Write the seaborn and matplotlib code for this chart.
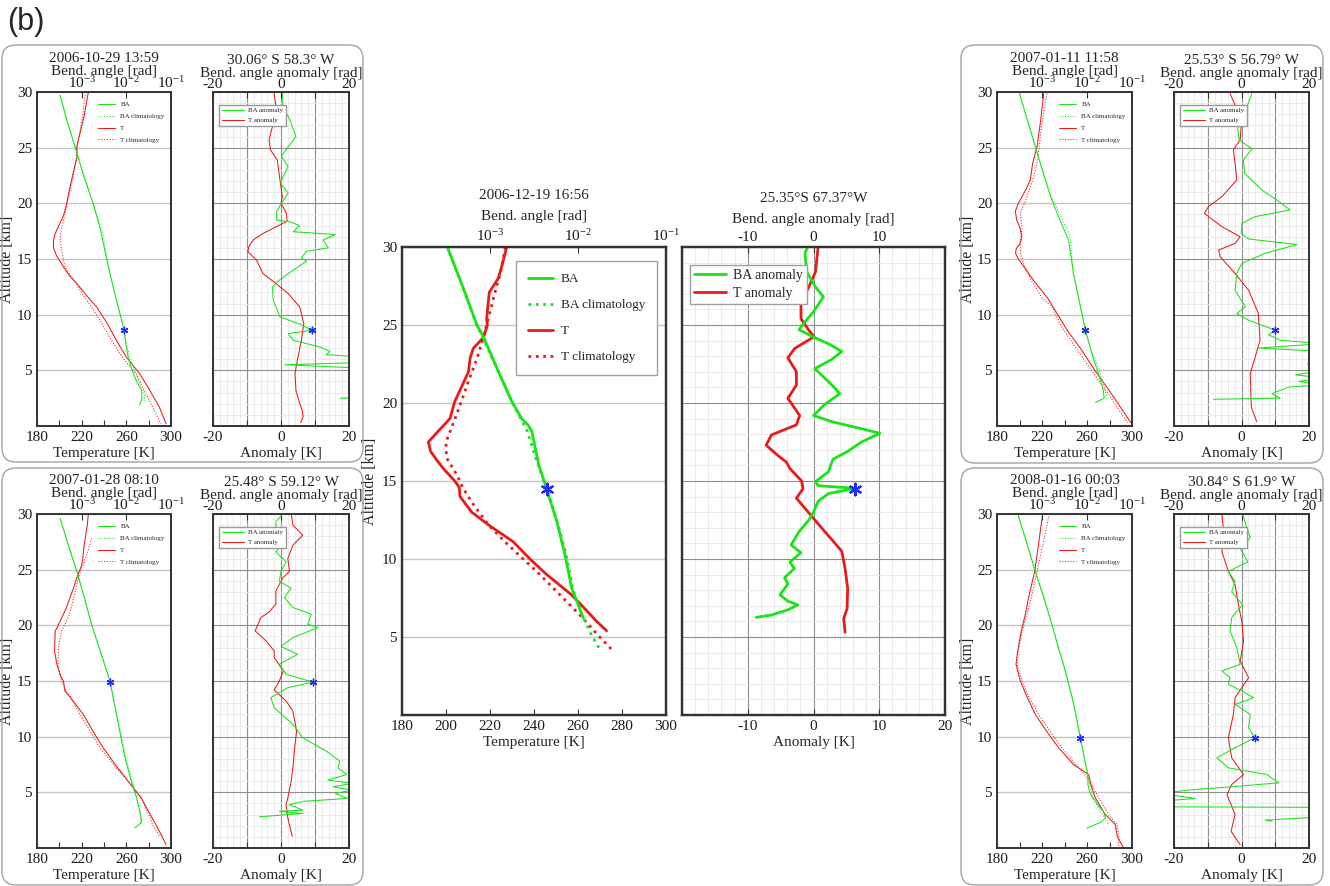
import matplotlib
matplotlib.use("Agg")
import matplotlib.pyplot as plt
from matplotlib.patches import FancyBboxPatch
from matplotlib.lines import Line2D
from matplotlib.ticker import MultipleLocator, NullLocator
import seaborn as sns

# ---------------------------------------------------------------- data
# 2006-12-19 16:56, 25.35°S 67.37°W  (large centre panel)
DEC19_T_ALT = [30.0, 29.1, 28.0, 27.1, 26.2, 25.4, 25.0, 24.2, 23.5, 22.9, 22.0, 21.2, 20.1, 19.0, 18.2, 17.5,
               16.9, 16.4, 15.8, 15.0, 14.6, 14.0, 13.0, 12.2, 11.1, 10.0, 9.0, 7.7, 6.8, 6.0, 5.4]
DEC19_T = [227.6, 226.0, 223.8, 219.7, 219.0, 218.5, 218.8, 217.0, 212.4, 211.0, 210.2, 207.6, 204.0, 201.8, 196.5,
           192.0, 193.0, 195.5, 198.8, 204.0, 206.0, 206.4, 211.7, 219.2, 230.6, 238.2, 245.8, 257.1, 263.2, 268.5,
           273.0]
DEC19_TC_ALT = [30.0, 28.5, 27.1, 25.4, 24.2, 22.9, 21.2, 20.1, 19.0, 17.5, 16.5, 15.4, 14.5, 13.5, 12.2, 11.1,
                10.0, 9.0, 7.7, 6.4, 5.1, 4.1]
DEC19_TC = [227.0, 225.0, 222.3, 219.2, 217.0, 214.2, 209.7, 207.0, 204.1, 200.0, 200.2, 204.9, 207.9, 212.4,
            219.2, 226.8, 235.1, 242.7, 251.8, 260.9, 269.2, 276.0]
DEC19_BA_ALT = [30.0, 27.6, 25.0, 24.2, 22.0, 20.1, 19.0, 18.6, 18.2, 17.0, 16.0, 14.5, 12.4, 10.3, 8.1, 7.3, 6.2]
DEC19_BA = [3.27e-4, 4.8e-4, 7.1e-4, 8.5e-4, 1.25e-3, 1.77e-3, 2.29e-3, 2.7e-3, 2.98e-3, 3.3e-3, 3.6e-3, 4.4e-3,
            5.75e-3, 7.1e-3, 8.5e-3, 9.7e-3, 1.15e-2]
DEC19_BAC_ALT = [30.0, 25.0, 22.0, 20.1, 18.2, 16.5, 14.5, 12.4, 10.3, 8.1, 6.5, 5.1, 4.1]
DEC19_BAC = [3.3e-4, 7.1e-4, 1.25e-3, 1.77e-3, 2.65e-3, 3.3e-3, 4.4e-3, 5.8e-3, 7.3e-3, 8.7e-3, 1.1e-2, 1.43e-2,
             1.82e-2]
DEC19_TA_ALT = [30.0, 28.4, 27.35, 26.5, 25.4, 24.6, 24.25, 23.5, 22.9, 22.0, 21.15, 20.3, 19.2, 18.6, 17.95, 17.3,
                16.7, 16.2, 15.8, 15.0, 14.5, 13.9, 13.5, 12.6, 11.5, 10.5, 9.4, 8.1, 6.8, 6.2, 5.3]
DEC19_TA = [0.7, 0.3, -0.8, -1.9, -1.9, -0.6, 0.1, -2.85, -3.9, -2.6, -2.6, -3.9, -2.1, -2.6, -6.4, -7.2, -5.6,
            -4.1, -3.6, -1.8, -1.6, -2.6, -1.8, 0.0, 2.25, 4.3, 4.8, 5.2, 5.1, 4.6, 4.8]
DEC19_BAA_ALT = [30.0, 29.6, 28.4, 27.5, 26.8, 25.85, 25.2, 24.7, 24.25, 23.75, 23.3, 22.8, 22.2, 21.6, 21.15, 20.6,
                 19.9, 19.2, 18.8, 18.4, 18.06, 17.5, 16.9, 16.4, 16.0, 15.6, 14.96, 14.7, 14.53, 14.2, 13.7, 13.0,
                 12.5, 11.75, 10.9, 10.4, 9.8, 9.4, 8.8, 8.4, 7.7, 7.3, 7.06, 6.74, 6.41, 6.26]
DEC19_BAA = [-0.9, -1.3, -1.0, 0.2, 1.5, 0.0, -1.3, -2.2, -0.1, 2.5, 4.3, 2.8, 0.2, 1.7, 2.8, 4.0, 1.7, 0.0, 2.8,
             6.8, 10.1, 7.3, 5.2, 3.0, 2.6, 2.3, 0.3, 0.7, 6.3, 2.3, 0.7, 0.0, -0.7, -2.2, -3.4, -1.9, -3.6, -2.9,
             -4.4, -3.9, -5.1, -3.9, -2.4, -3.9, -6.4, -8.7]
DEC19_STAR = [14.5, 4.4e-3, 6.3]          # altitude, bending angle, BA anomaly

# 2006-10-29 13:59, 30.06° S 58.3° W
OCT29_T_ALT = [30.0, 28.0, 26.5, 25.1, 24.2, 23.0, 22.1, 21.0, 20.0, 19.0, 18.5, 17.8, 17.2, 16.7, 16.0, 15.3, 14.3,
               13.5, 12.8, 12.0, 10.7, 9.2, 7.7, 6.2, 4.7, 3.2, 1.7, 0.2]
OCT29_T = [226.0, 222.5, 219.0, 215.6, 216.0, 213.0, 211.0, 208.5, 206.7, 204.0, 202.0, 198.5, 196.0, 194.8, 194.8,
           197.5, 203.7, 209.0, 215.6, 222.0, 233.3, 243.0, 251.0, 260.0, 271.9, 281.0, 289.6, 295.6]
OCT29_TC_ALT = [30.0, 28.0, 26.5, 25.1, 24.0, 23.0, 22.0, 21.0, 20.0, 19.0, 18.0, 17.2, 16.7, 15.8, 14.3, 12.8,
                11.8, 10.7, 9.2, 7.7, 6.2, 4.7, 3.2, 1.7, 0.2]
OCT29_TC = [223.5, 221.0, 218.5, 216.0, 215.0, 213.5, 211.5, 209.0, 207.0, 205.0, 202.5, 201.0, 200.7, 202.0, 205.0,
            215.0, 221.0, 228.9, 238.0, 246.7, 256.0, 268.9, 276.0, 283.7, 291.0]
OCT29_BA_ALT = [29.7, 27.5, 25.1, 22.5, 20.0, 18.0, 17.3, 15.5, 13.7, 11.5, 10.0, 8.6, 7.3, 6.2, 5.0, 4.0, 3.2, 2.5,
                1.9]
OCT29_BA = [3.3e-4, 4.6e-4, 7.1e-4, 1.1e-3, 1.8e-3, 2.5e-3, 2.75e-3, 3.4e-3, 4.3e-3, 5.8e-3, 7.3e-3, 8.9e-3,
            9.8e-3, 1.1e-2, 1.35e-2, 1.7e-2, 2.2e-2, 2.25e-2, 2.0e-2]
OCT29_BAC_ALT = [29.7, 25.1, 20.0, 18.0, 17.3, 16.5, 15.5, 13.7, 10.0, 8.6, 7.0, 5.0, 3.5, 2.8, 2.2]
OCT29_BAC = [3.3e-4, 7.0e-4, 1.8e-3, 2.6e-3, 3.0e-3, 3.2e-3, 3.5e-3, 4.3e-3, 7.3e-3, 8.8e-3, 1.05e-2, 1.5e-2,
             2.2e-2, 2.6e-2, 2.5e-2]
OCT29_TA_ALT = [30.0, 28.8, 27.8, 26.6, 25.7, 24.8, 23.9, 22.1, 20.6, 20.0, 19.1, 18.4, 17.8, 17.3, 16.7, 16.1,
                15.65, 14.9, 13.7, 12.8, 11.9, 10.7, 9.2, 7.7, 6.2, 4.7, 3.2, 2.0, 1.4, 0.8, 0.3]
OCT29_TA = [-2.1, -1.5, -1.3, -2.8, -3.5, -3.1, -1.1, -0.3, 0.4, 0.0, 1.6, 1.8, -2.0, -5.3, -8.2, -9.5, -9.7, -7.2,
            -5.3, -1.5, 2.1, 5.5, 6.7, 6.0, 5.0, 4.1, 4.4, 5.5, 6.3, 6.5, 5.8]
OCT29_BAA_ALT = [30.0, 28.7, 27.5, 26.0, 24.8, 24.2, 23.3, 22.4, 21.8, 20.9, 20.0, 19.25, 18.5, 18.35, 18.0, 17.45,
                 17.2, 16.7, 16.0, 15.7, 15.1, 14.8, 14.0, 13.1, 12.5, 11.3, 9.8, 9.1, 8.6, 8.3, 7.7, 7.1, 6.7, 6.4,
                 6.2, 5.7, 5.5, 5.2, 4.9, 4.0, 2.6, 2.55, 2.5, 2.45]
OCT29_BAA = [0.4, 0.6, 2.6, 4.4, 1.4, 0.1, 2.1, 0.6, -0.1, 2.1, 0.1, -1.3, -1.3, 2.6, 5.5, 3.6, 15.9, 12.4, 13.9,
             7.5, 6.0, 7.5, 3.6, -0.5, -2.5, -2.3, -0.3, 6.0, 9.0, 2.1, 3.6, 11.4, 14.4, 13.4, 24.0, 24.0, 1.1, 24.0,
             24.0, 30.0, 30.0, 30.0, 17.5, 30.0]
OCT29_STAR = [8.6, 8.9e-3, 9.0]

# 2007-01-28 08:10, 25.48° S 59.12° W
JAN28_T_ALT = [30.0, 29.0, 28.0, 27.0, 26.0, 25.4, 24.25, 23.3, 22.5, 21.5, 20.7, 20.0, 19.5, 18.5, 17.7, 16.5, 15.5,
               15.0, 14.1, 13.5, 12.0, 10.5, 9.0, 7.5, 6.0, 4.5, 3.0, 1.5, 0.3]
JAN28_T = [226.0, 225.0, 223.5, 222.0, 221.0, 220.0, 215.6, 212.5, 209.6, 206.0, 202.2, 199.0, 196.3, 196.0, 195.7,
           197.8, 201.0, 203.7, 205.0, 210.0, 221.5, 230.0, 239.3, 250.0, 261.5, 273.3, 281.5, 289.6, 295.6]
JAN28_TC_ALT = [27.8, 26.5, 25.4, 24.25, 23.3, 22.5, 21.5, 20.7, 19.5, 18.5, 17.7, 16.5, 15.5, 15.0, 14.1, 13.5, 12.0,
                10.5, 9.0, 7.5, 6.0, 4.5, 3.0, 2.0, 1.05]
JAN28_TC = [229.0, 225.0, 221.0, 217.0, 215.0, 213.0, 210.5, 208.0, 202.0, 200.0, 199.0, 199.0, 200.5, 202.0, 206.0,
            210.5, 218.5, 227.5, 236.3, 248.5, 261.5, 273.3, 280.0, 284.0, 290.0]
JAN28_BA_ALT = [29.6, 27.0, 24.85, 22.5, 20.1, 17.5, 15.0, 12.8, 10.5, 8.0, 6.0, 4.5, 3.0, 2.3, 1.8]
JAN28_BA = [3.3e-4, 5.2e-4, 7.8e-4, 1.15e-3, 1.66e-3, 2.7e-3, 4.3e-3, 5.5e-3, 7.1e-3, 9.5e-3, 1.29e-2, 1.7e-2,
            2.1e-2, 2.2e-2, 1.55e-2]
JAN28_BAC_ALT = [29.6, 24.85, 20.1, 15.0, 10.5, 8.0, 6.0, 5.0, 4.0, 3.0, 2.2]
JAN28_BAC = [3.3e-4, 7.8e-4, 1.66e-3, 4.3e-3, 7.3e-3, 1.0e-2, 1.35e-2, 1.6e-2, 1.8e-2, 2.0e-2, 2.1e-2]
JAN28_TA_ALT = [30.0, 29.0, 28.1, 27.2, 26.0, 24.85, 24.25, 23.1, 21.9, 21.2, 20.7, 19.5, 18.6, 17.7, 17.1, 15.9,
                15.0, 14.2, 13.2, 12.3, 10.5, 9.0, 7.5, 6.0, 4.5, 3.9, 2.7, 1.05]
JAN28_TA = [3.0, 3.5, 6.4, 3.5, 2.0, 2.5, 0.5, -1.5, -1.5, -3.5, -5.9, -7.6, -4.4, -2.0, -2.0, 0.7, -0.5, -2.0, 1.5,
            3.5, 4.6, 4.0, 3.6, 3.0, 2.0, 1.5, 2.0, 3.3]
JAN28_BAA_ALT = [30.0, 29.3, 28.1, 27.5, 26.6, 25.7, 24.85, 23.95, 23.35, 22.5, 21.6, 21.0, 20.1, 19.8, 18.9, 18.1,
                 17.4, 16.5, 15.6, 14.9, 14.4, 13.5, 12.6, 11.1, 9.9, 8.7, 7.8, 7.2, 6.6, 6.1, 5.8, 5.5, 5.2, 4.9,
                 4.45, 4.2, 3.9, 3.4, 3.3, 3.1, 2.8]
JAN28_BAA = [0.5, -1.5, -1.5, 1.0, -1.5, 1.5, 0.0, -0.5, 3.0, 1.0, 3.5, 8.9, 7.9, 10.9, 3.5, 0.0, 4.9, -0.5, 1.5,
             9.4, 2.0, -3.0, -2.0, 3.5, 6.4, 13.3, 17.3, 16.8, 19.3, 13.8, 21.0, 15.3, 21.0, 16.0, 19.5, 6.9, 2.5,
             6.4, -0.5, 6.4, -6.4]
JAN28_STAR = [14.9, 4.3e-3, 9.4]

# 2007-01-11 11:58, 25.53° S 56.79° W
JAN11_T_ALT = [29.85, 28.5, 27.2, 25.1, 23.6, 22.1, 21.3, 20.6, 20.0, 19.3, 18.5, 17.9, 17.0, 16.4, 15.9, 15.5, 15.0,
               14.0, 13.0, 11.5, 10.0, 8.5, 7.0, 5.0, 3.0, 1.5, 0.3]
JAN11_T = [221.5, 220.0, 218.5, 215.6, 211.7, 209.6, 206.0, 202.2, 199.0, 196.3, 197.5, 200.1, 202.2, 200.5, 197.0,
           196.5, 199.0, 206.0, 213.0, 225.0, 234.0, 243.0, 254.0, 267.0, 281.0, 291.0, 299.0]
JAN11_TC_ALT = [29.85, 27.2, 25.1, 23.6, 22.1, 20.6, 19.1, 17.9, 16.4, 15.5, 14.5, 13.0, 11.5, 10.7, 9.0, 7.0, 5.0,
                3.0, 1.5, 0.3]
JAN11_TC = [224.4, 220.0, 217.5, 215.6, 211.7, 206.7, 200.7, 202.2, 200.5, 201.0, 204.0, 211.0, 220.0, 229.0, 237.0,
            250.0, 264.0, 278.0, 288.0, 296.0]
JAN11_BA_ALT = [29.85, 27.5, 25.1, 22.8, 20.6, 18.5, 16.7, 13.7, 11.0, 8.6, 7.1, 6.0, 4.7, 3.2, 2.5, 2.1]
JAN11_BA = [3.16e-4, 4.7e-4, 7.1e-4, 1.05e-3, 1.55e-3, 2.5e-3, 3.9e-3, 5.0e-3, 6.9e-3, 9.2e-3, 1.17e-2, 1.4e-2,
            1.8e-2, 2.3e-2, 2.4e-2, 1.55e-2]
JAN11_BAC_ALT = [29.85, 25.1, 20.6, 18.5, 17.0, 13.7, 8.6, 7.0, 5.0, 3.0, 2.4]
JAN11_BAC = [3.2e-4, 7.1e-4, 1.6e-3, 2.9e-3, 4.2e-3, 5.0e-3, 9.2e-3, 1.2e-2, 1.9e-2, 2.6e-2, 2.7e-2]
JAN11_TA_ALT = [29.85, 27.8, 26.9, 25.7, 24.8, 23.6, 22.1, 20.6, 19.7, 19.1, 17.9, 17.0, 16.4, 15.8, 15.2, 13.7, 12.2,
                10.1, 7.7, 4.7, 1.7, 0.4]
JAN11_TA = [-3.4, -0.4, -0.1, -0.4, -2.4, -1.9, -1.4, -5.8, -9.8, -11.0, -5.8, -0.4, -1.9, -6.8, -6.3, -1.9, 2.1,
            5.0, 5.5, 2.6, 2.9, 4.5]
JAN11_BAA_ALT = [29.85, 28.7, 27.8, 26.6, 25.7, 24.9, 23.9, 22.7, 21.2, 20.3, 19.4, 18.8, 18.2, 17.3, 16.8, 16.3,
                 15.5, 14.6, 13.7, 12.2, 10.7, 10.1, 9.5, 8.6, 8.2, 7.7, 7.4, 7.0, 6.7, 5.9, 5.6, 5.0, 4.6, 4.3, 4.0,
                 3.7, 3.5, 2.9, 2.5, 2.4]
JAN11_BAA = [3.1, 1.6, -0.4, -1.1, -0.7, 3.1, 0.6, 0.9, 6.0, 10.5, 14.4, 4.0, 0.1, -0.1, 2.1, 16.4, 7.0, 0.1, -1.4,
             -1.9, 1.1, -1.4, 2.1, 10.0, 8.0, 11.5, 24.0, 5.0, 24.0, 24.0, 19.5, 24.0, 16.0, 24.0, 17.0, 24.0, 14.0,
             9.0, 11.5, -8.3]
JAN11_STAR = [8.6, 9.2e-3, 10.0]

# 2008-01-16 00:03, 30.84° S 61.9° W
JAN16_T_ALT = [30.0, 26.9, 24.85, 22.5, 21.0, 19.5, 17.7, 16.5, 15.0, 13.5, 12.0, 10.5, 9.0, 7.5, 6.6, 5.5, 4.5, 3.0,
               2.1, 1.0, 0.0]
JAN16_T = [220.6, 216.4, 213.5, 208.1, 205.2, 201.6, 198.4, 196.9, 200.7, 207.0, 214.0, 224.0, 234.8, 248.0, 261.5,
           264.0, 267.4, 276.3, 285.2, 287.0, 292.6]
JAN16_TC_ALT = [30.0, 26.9, 24.85, 22.5, 21.0, 19.5, 17.7, 16.5, 15.0, 13.5, 12.0, 10.5, 9.0, 7.5, 6.6, 5.5, 4.5, 3.0,
                2.1, 1.0, 0.0]
JAN16_TC = [226.5, 220.0, 215.6, 210.5, 206.7, 202.2, 199.0, 198.0, 202.2, 208.5, 217.0, 227.0, 237.7, 250.0, 258.0,
            265.0, 270.4, 279.3, 286.7, 288.5, 288.0]
JAN16_BA_ALT = [30.0, 27.5, 24.85, 22.5, 20.1, 18.0, 16.5, 13.5, 11.5, 9.9, 8.0, 6.9, 6.3, 5.7, 5.0, 4.5, 3.8, 3.3,
                2.7, 2.3, 1.8]
JAN16_BA = [2.9e-4, 4.5e-4, 7.1e-4, 1.1e-3, 1.66e-3, 2.3e-3, 3.0e-3, 4.7e-3, 6.0e-3, 7.1e-3, 8.8e-3, 1.0e-2, 1.05e-2,
            1.05e-2, 1.15e-2, 1.35e-2, 1.8e-2, 2.3e-2, 2.6e-2, 2.0e-2, 1.0e-2]
JAN16_BAC_ALT = [30.0, 24.85, 20.1, 16.5, 13.5, 9.9, 6.9, 5.0, 4.0, 3.0, 2.5, 2.0]
JAN16_BAC = [2.9e-4, 7.1e-4, 1.66e-3, 3.0e-3, 4.7e-3, 7.1e-3, 1.0e-2, 1.25e-2, 1.6e-2, 2.2e-2, 2.8e-2, 3.0e-2]
JAN16_TA_ALT = [30.0, 28.4, 26.6, 24.85, 23.65, 21.85, 20.35, 18.55, 16.8, 15.3, 13.5, 12.0, 9.9, 8.1, 6.6, 5.7, 4.8,
                3.0, 1.5, 0.3]
JAN16_TA = [-5.8, -5.3, -5.8, -3.9, -1.9, -0.9, 0.1, 0.6, -0.4, 2.1, -1.9, -2.4, -3.9, -2.9, 0.6, -2.9, -4.3, -1.9,
            -3.1, -0.4]
JAN16_BAA_ALT = [30.0, 27.85, 26.9, 25.7, 24.85, 23.95, 23.0, 21.85, 20.7, 19.5, 18.0, 16.5, 15.9, 15.3, 14.7, 14.1,
                 13.5, 12.9, 12.0, 10.8, 9.9, 9.0, 8.1, 7.2, 6.6, 5.85, 5.5, 5.2, 4.9, 4.45, 4.2, 3.7, 3.65, 2.8, 2.5,
                 2.4]
JAN16_BAA = [0.3, 2.6, -0.4, 1.9, -3.9, -1.9, -2.9, 0.3, -2.9, -3.4, -1.4, -0.4, -5.8, -3.4, -3.9, 0.1, 3.6, -1.9,
             2.6, 2.1, 3.9, -1.9, -7.3, -3.9, 7.5, 11.0, -2.9, -15.8, -24.0, -13.7, -24.0, -24.0, 24.0, 24.0, 7.0,
             9.0]
JAN16_STAR = [9.9, 7.1e-3, 3.9]

TITLES = {
    "DEC19": ("2006-12-19 16:56", "25.35°S 67.37°W"),
    "OCT29": ("2006-10-29 13:59", "30.06° S 58.3° W"),
    "JAN28": ("2007-01-28 08:10", "25.48° S 59.12° W"),
    "JAN11": ("2007-01-11 11:58", "25.53° S 56.79° W"),
    "JAN16": ("2008-01-16 00:03", "30.84° S 61.9° W"),
}

# ---------------------------------------------------------------- style
sns.set_theme(style="white")
plt.rcParams["font.family"] = ["Liberation Serif", "DejaVu Serif"]
plt.rcParams["mathtext.fontset"] = "stix"
plt.rcParams["axes.unicode_minus"] = False

GREEN = "#18e418"
RED = "#ea1a1a"
BLUE = "#1f2bff"
SPINE = "#333333"
W, H = 1330, 886


def rect(x0, y0, x1, y1):
    return [x0 / W, 1 - y1 / H, (x1 - x0) / W, (y1 - y0) / H]


def trace(ax, vals, alts, **kw):
    sns.lineplot(x=vals, y=alts, ax=ax, orient="y", sort=False, estimator=None, legend=False, **kw)


def key_line(color, lw, ls="-"):
    return Line2D([], [], color=color, lw=lw, linestyle=ls)


def style_axis(ax, big):
    for s in ax.spines.values():
        s.set_color(SPINE)
        s.set_linewidth(1.6 if big else 1.2)
    ax.tick_params(which="both", direction="in", length=4, width=0.8, colors=SPINE,
                   labelcolor="#1a1a1a", labelsize=11)


def profile_pair(fig, r_left, r_right, key, big):
    d = {k: globals()[f"{key}_{k}"] for k in
         ["T_ALT", "T", "TC_ALT", "TC", "BA_ALT", "BA", "BAC_ALT", "BAC", "TA_ALT", "TA", "BAA_ALT", "BAA", "STAR"]}
    when, where = TITLES[key]
    lw = 2.0 if big else 0.75
    ms = 70 if big else 22
    pad_lab = 6 if big else 0.5
    pad_title = 8 if big else 1

    # --- temperature / bending angle profile
    ax = fig.add_axes(r_left)
    axb = ax.twiny()
    axb.set_xscale("log")
    ax.set_xlim(180, 300)
    ax.set_ylim(0, 30)
    axb.set_xlim(1e-4, 1e-1)

    trace(ax, d["T"], d["T_ALT"], color=RED, lw=lw)
    trace(ax, d["TC"], d["TC_ALT"], color=RED, lw=lw, linestyle=":")
    trace(axb, d["BA"], d["BA_ALT"], color=GREEN, lw=lw)
    trace(axb, d["BAC"], d["BAC_ALT"], color=GREEN, lw=lw, linestyle=":")
    sns.scatterplot(x=[d["STAR"][1]], y=[d["STAR"][0]], ax=axb, marker=(6, 2, 0), color=BLUE,
                    s=ms, linewidth=1.6 if big else 1.0, legend=False, zorder=5)

    ax.set_xticks(range(180, 301, 20))
    if big:
        ax.set_xticklabels([str(v) for v in range(180, 301, 20)])
    else:
        ax.set_xticklabels(["180", "", "220", "", "260", "", "300"])
    ax.set_yticks([5, 10, 15, 20, 25, 30])
    ax.yaxis.grid(True, color="#c4c4c4", lw=1.0)
    ax.xaxis.grid(False)
    axb.set_xticks([1e-3, 1e-2, 1e-1])
    axb.xaxis.set_minor_locator(NullLocator())
    axb.set_ylim(0, 30)
    for a in (ax, axb):
        style_axis(a, big)
    axb.tick_params(pad=0.5 if not big else 2)
    ax.set_xlabel("Temperature [K]", fontsize=11, labelpad=2)
    ax.set_ylabel("Altitude [km]", fontsize=11.5, labelpad=1 if not big else 3)
    axb.set_xlabel("Bend. angle [rad]", fontsize=11, labelpad=pad_lab)
    axb.set_title(when, fontsize=11, pad=pad_title)

    keys = [key_line(GREEN, lw), key_line(GREEN, lw, ":"), key_line(RED, lw), key_line(RED, lw, ":")]
    names = ["BA", "BA climatology", "T", "T climatology"]
    if big:
        axb.legend(keys, names, loc="upper right", bbox_to_anchor=(0.99, 0.984), fontsize=9.5,
                   labelspacing=1.05, borderpad=0.9, handlelength=1.9, handletextpad=0.6, fancybox=False,
                   framealpha=1, edgecolor="#a0a0a0")
    else:
        axb.legend(keys, names, loc="upper right", bbox_to_anchor=(1.0, 0.99), fontsize=5,
                   labelspacing=0.85, handlelength=2.4, handletextpad=0.8, frameon=False)

    # --- anomaly profile
    axa = fig.add_axes(r_right)
    axt = axa.twiny()
    axa.set_xlim(-20, 20)
    axa.set_ylim(0, 30)
    axt.set_xlim(-20, 20)
    axt.set_ylim(0, 30)

    axa.xaxis.set_minor_locator(MultipleLocator(2))
    axa.yaxis.set_minor_locator(MultipleLocator(1))
    axa.grid(which="minor", color="#e8e8e8", lw=0.6)
    axa.grid(which="major", color="#8e8e8e", lw=0.8)

    trace(axa, d["TA"], d["TA_ALT"], color=RED, lw=lw)
    trace(axt, d["BAA"], d["BAA_ALT"], color=GREEN, lw=lw)
    sns.scatterplot(x=[d["STAR"][2]], y=[d["STAR"][0]], ax=axt, marker=(6, 2, 0), color=BLUE,
                    s=ms, linewidth=1.6 if big else 1.0, legend=False, zorder=5)

    ticks = [-20, -10, 0, 10, 20]
    axa.set_xticks(ticks)
    axt.set_xticks(ticks)
    if big:
        axa.set_xticklabels(["", "-10", "0", "10", "20"])
        axt.set_xticklabels(["", "-10", "0", "10", ""])
    else:
        axa.set_xticklabels(["-20", "", "0", "", "20"])
        axt.set_xticklabels(["-20", "", "0", "", "20"])
    axa.set_yticks([5, 10, 15, 20, 25, 30])
    axa.tick_params(labelleft=False)
    for a in (axa, axt):
        style_axis(a, big)
    axa.tick_params(which="minor", length=0)
    axt.tick_params(which="minor", length=0)
    axt.tick_params(pad=1 if not big else 2)
    axa.set_xlabel("Anomaly [K]", fontsize=11, labelpad=2)
    axa.set_ylabel("")
    axt.set_xlabel("Bend. angle anomaly [rad]", fontsize=11, labelpad=pad_lab if big else 0.5)
    axt.set_title(where, fontsize=11, pad=pad_title)

    akeys = [key_line(GREEN, lw), key_line(RED, lw)]
    if big:
        axt.legend(akeys, ["BA anomaly", "T anomaly"], loc="upper left",
                   bbox_to_anchor=(0.004, 0.976), fontsize=10, labelspacing=0.35, borderpad=0.3,
                   handlelength=2.3, handletextpad=0.5, fancybox=False, framealpha=1, edgecolor="#a0a0a0")
    else:
        axt.legend(akeys, ["BA anomaly", "T anomaly"], loc="upper left",
                   bbox_to_anchor=(0.02, 0.972), fontsize=5, labelspacing=0.6, borderpad=0.4,
                   handlelength=3.2, handletextpad=0.6, fancybox=False, framealpha=1, edgecolor="#9a9a9a")


fig = plt.figure(figsize=(W / 100, H / 100), dpi=100)
fig.patch.set_facecolor("white")

# rounded frames around the four small profile pairs
for x0, y0, x1, y1 in [(2, 45, 363, 462), (2, 468, 363, 885), (961, 45, 1323, 463), (961, 468, 1323, 885)]:
    fig.add_artist(FancyBboxPatch((x0 / 100, (H - y1) / 100), (x1 - x0) / 100, (y1 - y0) / 100,
                                  boxstyle="round,pad=0,rounding_size=0.14", transform=fig.dpi_scale_trans,
                                  facecolor="none", edgecolor="#a3a3a3", linewidth=1.0))

profile_pair(fig, rect(37, 92, 171, 426), rect(213, 92, 349, 426), "OCT29", big=False)
profile_pair(fig, rect(37, 514, 171, 848), rect(213, 514, 349, 848), "JAN28", big=False)
profile_pair(fig, rect(997, 92, 1132, 426), rect(1174, 92, 1309, 426), "JAN11", big=False)
profile_pair(fig, rect(997, 514, 1132, 848), rect(1174, 514, 1309, 848), "JAN16", big=False)
profile_pair(fig, rect(402, 247, 666, 715), rect(682, 247, 945, 715), "DEC19", big=True)

fig.text(0.005, 0.992, "(b)", ha="left", va="top", fontsize=22, family=["Liberation Sans", "DejaVu Sans"])

fig.savefig("out.png", dpi=100, facecolor="white")
